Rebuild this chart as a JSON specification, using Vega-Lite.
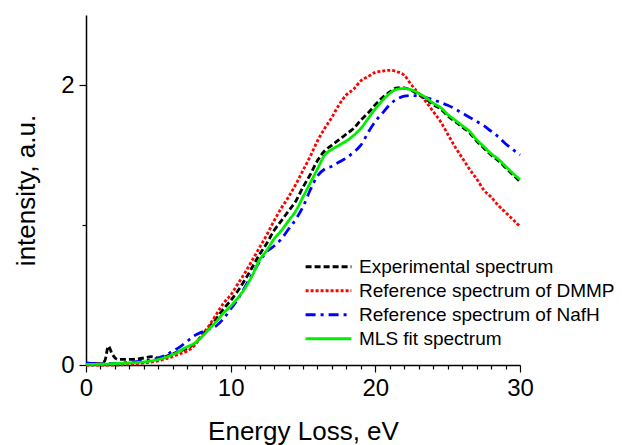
{
  "$schema": "https://vega.github.io/schema/vega-lite/v6.json",
  "autosize": "none",
  "width": 434,
  "height": 350,
  "padding": {"left": 86, "top": 15, "right": 102, "bottom": 80},
  "background": "white",
  "config": {
    "view": {"stroke": null},
    "font": "Liberation Sans",
    "axis": {"grid": false, "domainColor": "black", "domainWidth": 1.5, "tickColor": "black", "tickWidth": 1.2, "labelColor": "black", "titleColor": "black", "labelFont": "Liberation Sans", "titleFont": "Liberation Sans", "labelFontSize": 24, "titleFontSize": 26, "titleFontWeight": "normal"},
    "legend": {"clipHeight": 19.3}
  },
  "datasets": {
    "spec": [
      {"s": "Experimental spectrum", "x": 0, "y": 0.01}, {"s": "Experimental spectrum", "x": 0.5, "y": 0.01}, {"s": "Experimental spectrum", "x": 1, "y": 0.01}, {"s": "Experimental spectrum", "x": 1.3, "y": 0.03}, {"s": "Experimental spectrum", "x": 1.55, "y": 0.135}, {"s": "Experimental spectrum", "x": 1.8, "y": 0.08}, {"s": "Experimental spectrum", "x": 2.2, "y": 0.04}, {"s": "Experimental spectrum", "x": 3, "y": 0.04}, {"s": "Experimental spectrum", "x": 4, "y": 0.05}, {"s": "Experimental spectrum", "x": 4.5, "y": 0.06}, {"s": "Experimental spectrum", "x": 5, "y": 0.05}, {"s": "Experimental spectrum", "x": 5.5, "y": 0.06}, {"s": "Experimental spectrum", "x": 6, "y": 0.08}, {"s": "Experimental spectrum", "x": 6.5, "y": 0.1}, {"s": "Experimental spectrum", "x": 7, "y": 0.12}, {"s": "Experimental spectrum", "x": 7.5, "y": 0.15}, {"s": "Experimental spectrum", "x": 8, "y": 0.21}, {"s": "Experimental spectrum", "x": 8.5, "y": 0.27}, {"s": "Experimental spectrum", "x": 9, "y": 0.33}, {"s": "Experimental spectrum", "x": 9.5, "y": 0.4}, {"s": "Experimental spectrum", "x": 10, "y": 0.46}, {"s": "Experimental spectrum", "x": 10.5, "y": 0.53}, {"s": "Experimental spectrum", "x": 11, "y": 0.61}, {"s": "Experimental spectrum", "x": 11.5, "y": 0.7}, {"s": "Experimental spectrum", "x": 12, "y": 0.79}, {"s": "Experimental spectrum", "x": 12.5, "y": 0.87}, {"s": "Experimental spectrum", "x": 13, "y": 0.96}, {"s": "Experimental spectrum", "x": 13.5, "y": 1.03}, {"s": "Experimental spectrum", "x": 14, "y": 1.1}, {"s": "Experimental spectrum", "x": 14.5, "y": 1.17}, {"s": "Experimental spectrum", "x": 15, "y": 1.27}, {"s": "Experimental spectrum", "x": 15.5, "y": 1.36}, {"s": "Experimental spectrum", "x": 16, "y": 1.46}, {"s": "Experimental spectrum", "x": 16.5, "y": 1.53}, {"s": "Experimental spectrum", "x": 17, "y": 1.57}, {"s": "Experimental spectrum", "x": 17.5, "y": 1.61}, {"s": "Experimental spectrum", "x": 18, "y": 1.65}, {"s": "Experimental spectrum", "x": 18.5, "y": 1.69}, {"s": "Experimental spectrum", "x": 19, "y": 1.75}, {"s": "Experimental spectrum", "x": 19.5, "y": 1.8}, {"s": "Experimental spectrum", "x": 20, "y": 1.86}, {"s": "Experimental spectrum", "x": 20.5, "y": 1.91}, {"s": "Experimental spectrum", "x": 21, "y": 1.95}, {"s": "Experimental spectrum", "x": 21.5, "y": 1.98}, {"s": "Experimental spectrum", "x": 22, "y": 1.98}, {"s": "Experimental spectrum", "x": 22.5, "y": 1.96}, {"s": "Experimental spectrum", "x": 23, "y": 1.93}, {"s": "Experimental spectrum", "x": 23.5, "y": 1.9}, {"s": "Experimental spectrum", "x": 24, "y": 1.86}, {"s": "Experimental spectrum", "x": 24.5, "y": 1.83}, {"s": "Experimental spectrum", "x": 25, "y": 1.78}, {"s": "Experimental spectrum", "x": 25.5, "y": 1.74}, {"s": "Experimental spectrum", "x": 26, "y": 1.7}, {"s": "Experimental spectrum", "x": 26.5, "y": 1.66}, {"s": "Experimental spectrum", "x": 27, "y": 1.6}, {"s": "Experimental spectrum", "x": 27.5, "y": 1.55}, {"s": "Experimental spectrum", "x": 28, "y": 1.5}, {"s": "Experimental spectrum", "x": 28.5, "y": 1.46}, {"s": "Experimental spectrum", "x": 29, "y": 1.41}, {"s": "Experimental spectrum", "x": 29.5, "y": 1.36}, {"s": "Experimental spectrum", "x": 30, "y": 1.31},

      {"s": "Reference spectrum of DMMP", "x": 0, "y": 0.0}, {"s": "Reference spectrum of DMMP", "x": 1, "y": 0.0}, {"s": "Reference spectrum of DMMP", "x": 2, "y": 0.0}, {"s": "Reference spectrum of DMMP", "x": 3, "y": 0.005}, {"s": "Reference spectrum of DMMP", "x": 4, "y": 0.015}, {"s": "Reference spectrum of DMMP", "x": 5, "y": 0.03}, {"s": "Reference spectrum of DMMP", "x": 5.5, "y": 0.045}, {"s": "Reference spectrum of DMMP", "x": 6, "y": 0.06}, {"s": "Reference spectrum of DMMP", "x": 6.5, "y": 0.08}, {"s": "Reference spectrum of DMMP", "x": 7, "y": 0.1}, {"s": "Reference spectrum of DMMP", "x": 7.5, "y": 0.14}, {"s": "Reference spectrum of DMMP", "x": 8, "y": 0.21}, {"s": "Reference spectrum of DMMP", "x": 8.5, "y": 0.28}, {"s": "Reference spectrum of DMMP", "x": 9, "y": 0.36}, {"s": "Reference spectrum of DMMP", "x": 9.5, "y": 0.44}, {"s": "Reference spectrum of DMMP", "x": 10, "y": 0.5}, {"s": "Reference spectrum of DMMP", "x": 10.5, "y": 0.58}, {"s": "Reference spectrum of DMMP", "x": 11, "y": 0.66}, {"s": "Reference spectrum of DMMP", "x": 11.5, "y": 0.75}, {"s": "Reference spectrum of DMMP", "x": 12, "y": 0.84}, {"s": "Reference spectrum of DMMP", "x": 12.5, "y": 0.93}, {"s": "Reference spectrum of DMMP", "x": 13, "y": 1.03}, {"s": "Reference spectrum of DMMP", "x": 13.5, "y": 1.12}, {"s": "Reference spectrum of DMMP", "x": 14, "y": 1.2}, {"s": "Reference spectrum of DMMP", "x": 14.5, "y": 1.29}, {"s": "Reference spectrum of DMMP", "x": 15, "y": 1.39}, {"s": "Reference spectrum of DMMP", "x": 15.5, "y": 1.49}, {"s": "Reference spectrum of DMMP", "x": 16, "y": 1.6}, {"s": "Reference spectrum of DMMP", "x": 16.5, "y": 1.69}, {"s": "Reference spectrum of DMMP", "x": 17, "y": 1.77}, {"s": "Reference spectrum of DMMP", "x": 17.5, "y": 1.86}, {"s": "Reference spectrum of DMMP", "x": 18, "y": 1.93}, {"s": "Reference spectrum of DMMP", "x": 18.5, "y": 1.97}, {"s": "Reference spectrum of DMMP", "x": 19, "y": 2.03}, {"s": "Reference spectrum of DMMP", "x": 19.5, "y": 2.06}, {"s": "Reference spectrum of DMMP", "x": 20, "y": 2.09}, {"s": "Reference spectrum of DMMP", "x": 20.5, "y": 2.1}, {"s": "Reference spectrum of DMMP", "x": 21, "y": 2.105}, {"s": "Reference spectrum of DMMP", "x": 21.5, "y": 2.095}, {"s": "Reference spectrum of DMMP", "x": 22, "y": 2.07}, {"s": "Reference spectrum of DMMP", "x": 22.5, "y": 2.0}, {"s": "Reference spectrum of DMMP", "x": 23, "y": 1.94}, {"s": "Reference spectrum of DMMP", "x": 23.5, "y": 1.88}, {"s": "Reference spectrum of DMMP", "x": 24, "y": 1.81}, {"s": "Reference spectrum of DMMP", "x": 24.5, "y": 1.74}, {"s": "Reference spectrum of DMMP", "x": 25, "y": 1.65}, {"s": "Reference spectrum of DMMP", "x": 25.5, "y": 1.56}, {"s": "Reference spectrum of DMMP", "x": 26, "y": 1.48}, {"s": "Reference spectrum of DMMP", "x": 26.5, "y": 1.4}, {"s": "Reference spectrum of DMMP", "x": 27, "y": 1.33}, {"s": "Reference spectrum of DMMP", "x": 27.5, "y": 1.25}, {"s": "Reference spectrum of DMMP", "x": 28, "y": 1.2}, {"s": "Reference spectrum of DMMP", "x": 28.5, "y": 1.14}, {"s": "Reference spectrum of DMMP", "x": 29, "y": 1.09}, {"s": "Reference spectrum of DMMP", "x": 29.5, "y": 1.04}, {"s": "Reference spectrum of DMMP", "x": 30, "y": 0.99},

      {"s": "Reference spectrum of NafH", "x": 0, "y": 0.015}, {"s": "Reference spectrum of NafH", "x": 1, "y": 0.01}, {"s": "Reference spectrum of NafH", "x": 2, "y": 0.01}, {"s": "Reference spectrum of NafH", "x": 3, "y": 0.02}, {"s": "Reference spectrum of NafH", "x": 4, "y": 0.03}, {"s": "Reference spectrum of NafH", "x": 5, "y": 0.05}, {"s": "Reference spectrum of NafH", "x": 5.5, "y": 0.07}, {"s": "Reference spectrum of NafH", "x": 6, "y": 0.1}, {"s": "Reference spectrum of NafH", "x": 6.5, "y": 0.13}, {"s": "Reference spectrum of NafH", "x": 7, "y": 0.17}, {"s": "Reference spectrum of NafH", "x": 7.5, "y": 0.21}, {"s": "Reference spectrum of NafH", "x": 8, "y": 0.235}, {"s": "Reference spectrum of NafH", "x": 8.5, "y": 0.255}, {"s": "Reference spectrum of NafH", "x": 9, "y": 0.28}, {"s": "Reference spectrum of NafH", "x": 9.5, "y": 0.33}, {"s": "Reference spectrum of NafH", "x": 10, "y": 0.4}, {"s": "Reference spectrum of NafH", "x": 10.5, "y": 0.47}, {"s": "Reference spectrum of NafH", "x": 11, "y": 0.56}, {"s": "Reference spectrum of NafH", "x": 11.5, "y": 0.65}, {"s": "Reference spectrum of NafH", "x": 12, "y": 0.74}, {"s": "Reference spectrum of NafH", "x": 12.5, "y": 0.81}, {"s": "Reference spectrum of NafH", "x": 13, "y": 0.85}, {"s": "Reference spectrum of NafH", "x": 13.5, "y": 0.9}, {"s": "Reference spectrum of NafH", "x": 14, "y": 0.97}, {"s": "Reference spectrum of NafH", "x": 14.5, "y": 1.04}, {"s": "Reference spectrum of NafH", "x": 15, "y": 1.13}, {"s": "Reference spectrum of NafH", "x": 15.5, "y": 1.25}, {"s": "Reference spectrum of NafH", "x": 16, "y": 1.35}, {"s": "Reference spectrum of NafH", "x": 16.5, "y": 1.4}, {"s": "Reference spectrum of NafH", "x": 17, "y": 1.42}, {"s": "Reference spectrum of NafH", "x": 17.5, "y": 1.45}, {"s": "Reference spectrum of NafH", "x": 18, "y": 1.48}, {"s": "Reference spectrum of NafH", "x": 18.5, "y": 1.52}, {"s": "Reference spectrum of NafH", "x": 19, "y": 1.57}, {"s": "Reference spectrum of NafH", "x": 19.5, "y": 1.66}, {"s": "Reference spectrum of NafH", "x": 20, "y": 1.74}, {"s": "Reference spectrum of NafH", "x": 20.5, "y": 1.8}, {"s": "Reference spectrum of NafH", "x": 21, "y": 1.86}, {"s": "Reference spectrum of NafH", "x": 21.5, "y": 1.9}, {"s": "Reference spectrum of NafH", "x": 22, "y": 1.92}, {"s": "Reference spectrum of NafH", "x": 22.5, "y": 1.925}, {"s": "Reference spectrum of NafH", "x": 23, "y": 1.92}, {"s": "Reference spectrum of NafH", "x": 23.5, "y": 1.91}, {"s": "Reference spectrum of NafH", "x": 24, "y": 1.895}, {"s": "Reference spectrum of NafH", "x": 24.5, "y": 1.875}, {"s": "Reference spectrum of NafH", "x": 25, "y": 1.855}, {"s": "Reference spectrum of NafH", "x": 25.5, "y": 1.83}, {"s": "Reference spectrum of NafH", "x": 26, "y": 1.8}, {"s": "Reference spectrum of NafH", "x": 26.5, "y": 1.77}, {"s": "Reference spectrum of NafH", "x": 27, "y": 1.74}, {"s": "Reference spectrum of NafH", "x": 27.5, "y": 1.71}, {"s": "Reference spectrum of NafH", "x": 28, "y": 1.67}, {"s": "Reference spectrum of NafH", "x": 28.5, "y": 1.63}, {"s": "Reference spectrum of NafH", "x": 29, "y": 1.58}, {"s": "Reference spectrum of NafH", "x": 29.5, "y": 1.54}, {"s": "Reference spectrum of NafH", "x": 30, "y": 1.5},

      {"s": "MLS fit spectrum", "x": 0, "y": 0.005}, {"s": "MLS fit spectrum", "x": 1, "y": 0.005}, {"s": "MLS fit spectrum", "x": 2, "y": 0.01}, {"s": "MLS fit spectrum", "x": 3, "y": 0.015}, {"s": "MLS fit spectrum", "x": 4, "y": 0.022}, {"s": "MLS fit spectrum", "x": 5, "y": 0.04}, {"s": "MLS fit spectrum", "x": 6, "y": 0.075}, {"s": "MLS fit spectrum", "x": 7, "y": 0.13}, {"s": "MLS fit spectrum", "x": 7.5, "y": 0.155}, {"s": "MLS fit spectrum", "x": 8, "y": 0.2}, {"s": "MLS fit spectrum", "x": 8.5, "y": 0.255}, {"s": "MLS fit spectrum", "x": 9, "y": 0.31}, {"s": "MLS fit spectrum", "x": 9.5, "y": 0.37}, {"s": "MLS fit spectrum", "x": 10, "y": 0.42}, {"s": "MLS fit spectrum", "x": 10.5, "y": 0.48}, {"s": "MLS fit spectrum", "x": 11, "y": 0.55}, {"s": "MLS fit spectrum", "x": 11.5, "y": 0.64}, {"s": "MLS fit spectrum", "x": 12, "y": 0.75}, {"s": "MLS fit spectrum", "x": 12.5, "y": 0.82}, {"s": "MLS fit spectrum", "x": 13, "y": 0.9}, {"s": "MLS fit spectrum", "x": 13.5, "y": 0.96}, {"s": "MLS fit spectrum", "x": 14, "y": 1.03}, {"s": "MLS fit spectrum", "x": 14.5, "y": 1.1}, {"s": "MLS fit spectrum", "x": 15, "y": 1.2}, {"s": "MLS fit spectrum", "x": 15.5, "y": 1.3}, {"s": "MLS fit spectrum", "x": 16, "y": 1.4}, {"s": "MLS fit spectrum", "x": 16.5, "y": 1.5}, {"s": "MLS fit spectrum", "x": 17, "y": 1.54}, {"s": "MLS fit spectrum", "x": 17.5, "y": 1.57}, {"s": "MLS fit spectrum", "x": 18, "y": 1.6}, {"s": "MLS fit spectrum", "x": 18.5, "y": 1.64}, {"s": "MLS fit spectrum", "x": 19, "y": 1.69}, {"s": "MLS fit spectrum", "x": 19.5, "y": 1.76}, {"s": "MLS fit spectrum", "x": 20, "y": 1.83}, {"s": "MLS fit spectrum", "x": 20.5, "y": 1.89}, {"s": "MLS fit spectrum", "x": 21, "y": 1.94}, {"s": "MLS fit spectrum", "x": 21.5, "y": 1.97}, {"s": "MLS fit spectrum", "x": 22, "y": 1.975}, {"s": "MLS fit spectrum", "x": 22.5, "y": 1.965}, {"s": "MLS fit spectrum", "x": 23, "y": 1.94}, {"s": "MLS fit spectrum", "x": 23.5, "y": 1.91}, {"s": "MLS fit spectrum", "x": 24, "y": 1.87}, {"s": "MLS fit spectrum", "x": 24.5, "y": 1.84}, {"s": "MLS fit spectrum", "x": 25, "y": 1.79}, {"s": "MLS fit spectrum", "x": 25.5, "y": 1.75}, {"s": "MLS fit spectrum", "x": 26, "y": 1.71}, {"s": "MLS fit spectrum", "x": 26.5, "y": 1.67}, {"s": "MLS fit spectrum", "x": 27, "y": 1.61}, {"s": "MLS fit spectrum", "x": 27.5, "y": 1.56}, {"s": "MLS fit spectrum", "x": 28, "y": 1.51}, {"s": "MLS fit spectrum", "x": 28.5, "y": 1.47}, {"s": "MLS fit spectrum", "x": 29, "y": 1.42}, {"s": "MLS fit spectrum", "x": 29.5, "y": 1.37}, {"s": "MLS fit spectrum", "x": 30, "y": 1.325}
    ]
  },
  "data": {"name": "spec"},
  "mark": {"type": "line", "strokeWidth": 2.8, "interpolate": "monotone"},
  "encoding": {
    "x": {
      "field": "x", "type": "quantitative",
      "scale": {"domain": [0, 30], "nice": false, "zero": false},
      "axis": {
        "title": "Energy Loss, eV",
        "values": [0,1,2,3,4,5,6,7,8,9,10,11,12,13,14,15,16,17,18,19,20,21,22,23,24,25,26,27,28,29,30],
        "labelExpr": "datum.value % 10 === 0 ? datum.label : ''",
        "tickSize": {"expr": "datum.value % 10 === 0 ? 7 : 4"},
        "labelPadding": 4,
        "labelFlush": false,
        "labelOverlap": false,
        "titlePadding": 18
      }
    },
    "y": {
      "field": "y", "type": "quantitative",
      "scale": {"domain": [0, 2.5], "nice": false},
      "axis": {
        "title": "intensity, a.u.",
        "values": [0, 1, 2],
        "labelExpr": "datum.value === 1 ? '' : datum.label",
        "tickSize": {"expr": "datum.value === 1 ? 4 : 7"},
        "labelPadding": 5,
        "titlePadding": 21
      }
    },
    "color": {
      "field": "s", "type": "nominal",
      "scale": {
        "domain": ["Experimental spectrum", "Reference spectrum of DMMP", "Reference spectrum of NafH", "MLS fit spectrum"],
        "range": ["#000000", "#ff0000", "#0000ff", "#00ee00"]
      },
      "legend": {
        "title": null,
        "orient": "none",
        "legendX": 218,
        "legendY": 242,
        "symbolType": "stroke",
        "symbolSize": 2100,
        "symbolStrokeWidth": 3,
        "labelFontSize": 19,
        "labelFont": "Liberation Sans",
        "labelColor": "black",
        "labelLimit": 400,
        "labelOffset": 6,
        "rowPadding": 4,
        "clipHeight": 19.3
      }
    },
    "strokeDash": {
      "field": "s", "type": "nominal",
      "scale": {
        "domain": ["Experimental spectrum", "Reference spectrum of DMMP", "Reference spectrum of NafH", "MLS fit spectrum"],
        "range": [[6, 3], [3, 2], [10, 5, 3, 5], [1, 0]]
      },
      "legend": {
        "title": null,
        "orient": "none",
        "legendX": 218,
        "legendY": 242,
        "symbolType": "stroke",
        "symbolSize": 2100,
        "symbolStrokeWidth": 3,
        "labelFontSize": 19,
        "labelFont": "Liberation Sans",
        "labelColor": "black",
        "labelLimit": 400,
        "labelOffset": 6,
        "rowPadding": 4,
        "clipHeight": 19.3
      }
    }
  }
}
